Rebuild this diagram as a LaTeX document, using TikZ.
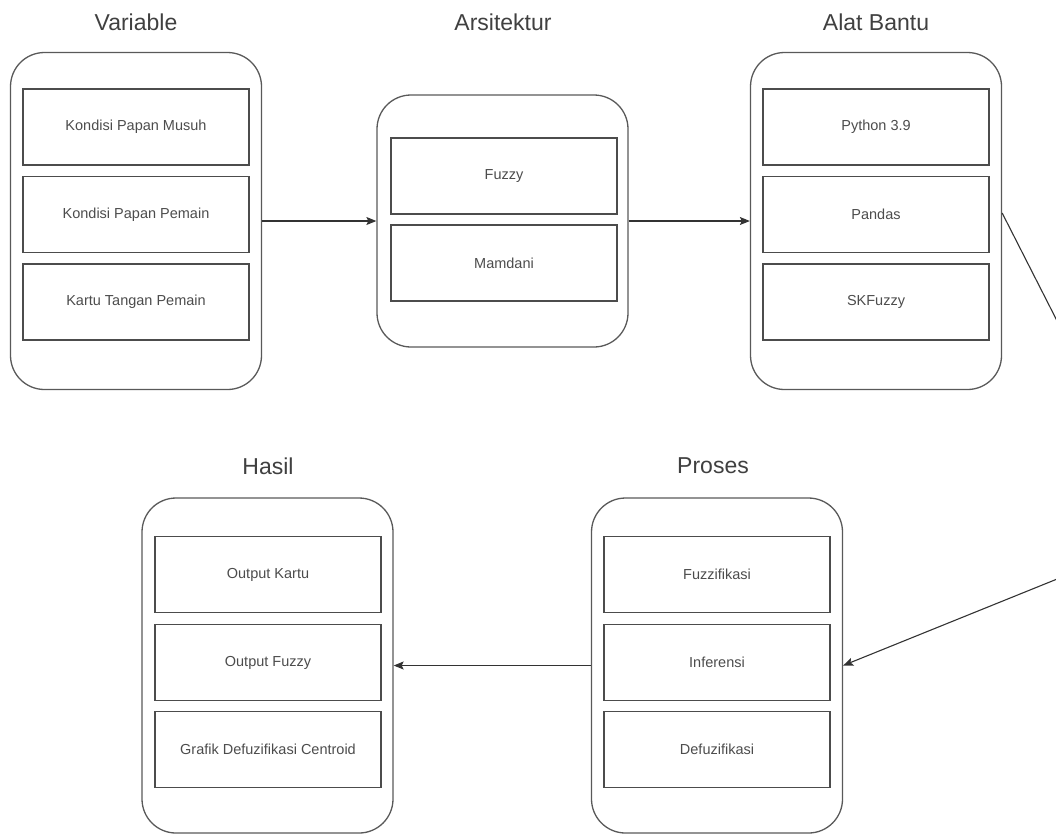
\documentclass[tikz,border=0pt]{standalone}
\usepackage{fontspec}
\setmainfont{Liberation Sans}
\usetikzlibrary{arrows.meta}
\begin{document}
\begin{tikzpicture}[x=1pt,y=-1pt,
    group/.style={draw=black!65,line width=1.3pt,rounded corners=34pt,minimum width=251pt,inner sep=0pt},
    item/.style={draw=black!70,line width=1.3pt,minimum width=226pt,minimum height=76pt,inner sep=0pt,
        font=\fontsize{14.5}{17}\selectfont,text=black!70},
    heading/.style={font=\fontsize{23}{26}\selectfont,text=black!75},
    link/.style={-{Stealth[length=10pt,width=8pt,inset=2pt]},line width=1.1pt,draw=black!80}]
    \useasboundingbox (0,0) rectangle (1056,836);
    \clip (0,0) rectangle (1056,836);
    % top row
    \node[heading] (hvar) at (136,22) {Variable};
    \node[group,minimum height=337pt] (var) at (136,221) {};
    \node[item] (var1) at (136,127) {Kondisi Papan Musuh};
    \node[item] (var2) at (136,214.5) {Kondisi Papan Pemain};
    \node[item] (var3) at (136,302) {Kartu Tangan Pemain};
    \node[heading] (harsi) at (503,22) {Arsitektur};
    \node[group,minimum height=252pt] (arsi) at (502.5,221) {};
    \node[item] (arsi1) at (504,176) {Fuzzy};
    \node[item] (arsi2) at (504,263) {Mamdani};
    \node[heading] (halat) at (876,22) {Alat Bantu};
    \node[group,minimum height=337pt] (alat) at (876,221) {};
    \node[item] (alat1) at (876,127) {Python 3.9};
    \node[item] (alat2) at (876,214.5) {Pandas};
    \node[item] (alat3) at (876,302) {SKFuzzy};
    % bottom row
    \node[heading] (hhasil) at (268,466) {Hasil};
    \node[group,minimum height=335pt] (hasil) at (267.5,665.5) {};
    \node[item] (hasil1) at (268,574.5) {Output Kartu};
    \node[item] (hasil2) at (268,662.5) {Output Fuzzy};
    \node[item] (hasil3) at (268,749.5) {Grafik Defuzifikasi Centroid};
    \node[heading] (hpros) at (713,466) {Proses};
    \node[group,minimum height=335pt] (pros) at (717,665.5) {};
    \node[item] (pros1) at (717,574.5) {Fuzzifikasi};
    \node[item] (pros2) at (717,662.5) {Inferensi};
    \node[item] (pros3) at (717,749.5) {Defuzifikasi};
    % connectors
    \coordinate (bend) at (1166,535);
    \draw[link] (var) -- (arsi);
    \draw[link] (arsi) -- (alat);
    \draw[link] ([yshift=8pt]alat.east) -- (bend) -- (pros.east);
    \draw[link] (pros) -- (hasil);
\end{tikzpicture}
\end{document}
